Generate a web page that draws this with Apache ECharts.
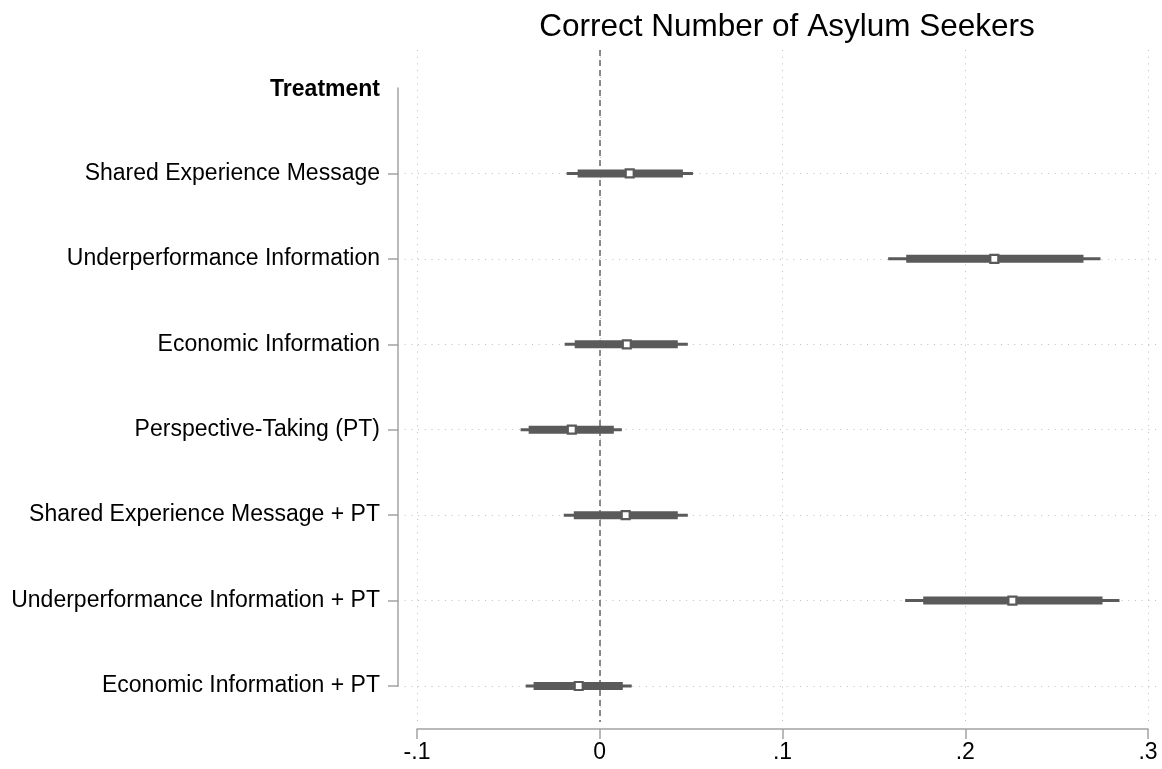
<!DOCTYPE html>
<html>
<head>
<meta charset="utf-8">
<script src="https://cdn.jsdelivr.net/npm/echarts@6/dist/echarts.min.js"></script>
<style>html,body{margin:0;padding:0;background:#fff}#c{width:1162px;height:769px}</style>
</head>
<body>
<div id="c"></div>
<script>
const categories = ['Treatment', 'Shared Experience Message', 'Underperformance Information', 'Economic Information', 'Perspective-Taking (PT)', 'Shared Experience Message + PT', 'Underperformance Information + PT', 'Economic Information + PT'];
const estimates = [0.0164, 0.2159, 0.0148, -0.0153, 0.0142, 0.2258, -0.0115];
const ci95Low  = [-0.0181, 0.1578, -0.0192, -0.0433, -0.0197, 0.1671, -0.0405];
const ci95High = [0.0510, 0.2740, 0.0482, 0.0121, 0.0482, 0.2844, 0.0175];
const ci90Low  = [-0.0121, 0.1677, -0.0137, -0.0389, -0.0142, 0.1770, -0.0362];
const ci90High = [0.0455, 0.2647, 0.0427, 0.0077, 0.0427, 0.2751, 0.0126];
const xTickLabels = ['-.1', '0', '.1', '.2', '.3'];

const FONT = 'Liberation Sans, Arial, Helvetica, sans-serif';
const DARK = '#5a5a5a';
const AXIS = '#a3a3a3';
const GRIDC = '#bdbdbd';

const seriesData = estimates.map((e, i) => [i + 1, ci95Low[i], ci95High[i], ci90Low[i], ci90High[i], e]);

const chart = echarts.init(document.getElementById('c'), null, {renderer: 'canvas'});
chart.setOption({
  animation: false,
  backgroundColor: '#fff',
  title: {
    text: 'Correct Number of Asylum Seekers',
    left: 782, textAlign: 'center', top: 6,
    textStyle: {fontFamily: FONT, fontSize: 31.5, fontWeight: 'normal', color: '#000'}
  },
  grid: [
    {left: 417, right: 14, top: 50, bottom: 47},
    {left: 398, right: 5, top: 88, bottom: 83}
  ],
  xAxis: [
    {
      gridIndex: 0, type: 'value', min: -0.1, max: 0.3, interval: 0.1,
      offset: 7,
      axisLine: {show: true, onZero: false, lineStyle: {color: AXIS, width: 1.5}},
      axisTick: {show: true, length: 10, lineStyle: {color: AXIS, width: 1.5}},
      axisLabel: {
        margin: 12, fontFamily: FONT, fontSize: 23, color: '#000',
        formatter: v => xTickLabels[Math.round((v + 0.1) / 0.1)]
      },
      splitLine: {show: true, showMinLine: true, showMaxLine: true, lineStyle: {color: GRIDC, width: 1, type: [1, 5.7]}}
    },
    {gridIndex: 1, type: 'value', min: 0, max: 1, show: false}
  ],
  yAxis: [
    {gridIndex: 0, type: 'value', inverse: true, min: -0.4448, max: 7.4213, show: false, splitLine: {show: false}},
    {
      gridIndex: 1, type: 'category', data: categories, inverse: true, boundaryGap: false,
      axisLine: {show: true, lineStyle: {color: AXIS, width: 1.5}},
      axisTick: {show: true, length: 10, interval: (i) => i !== 0, lineStyle: {color: AXIS, width: 1.5}},
      axisLabel: {
        margin: 18, interval: 0, fontFamily: FONT, fontSize: 23, color: '#000',
        formatter: (v, i) => i === 0 ? '{b|' + v + '}' : v,
        rich: {b: {fontFamily: FONT, fontSize: 23, fontWeight: 'bold', color: '#000', padding: [4, 0, 0, 0]}}
      },
      splitLine: {show: true, interval: (i) => i !== 0, lineStyle: {color: GRIDC, width: 1, type: [1, 5.7]}}
    }
  ],
  series: [{
    type: 'custom',
    xAxisIndex: 0, yAxisIndex: 0,
    data: seriesData,
    z: 5,
    renderItem: (params, api) => {
      const y = api.value(0);
      const a = api.coord([api.value(1), y]);
      const b = api.coord([api.value(2), y]);
      const c = api.coord([api.value(3), y]);
      const d = api.coord([api.value(4), y]);
      const p = api.coord([api.value(5), y]);
      return {
        type: 'group',
        children: [
          {type: 'line', shape: {x1: a[0], y1: a[1], x2: b[0], y2: b[1]}, style: {stroke: DARK, lineWidth: 3}},
          {type: 'line', shape: {x1: c[0], y1: c[1], x2: d[0], y2: d[1]}, style: {stroke: DARK, lineWidth: 8}},
          {type: 'rect', shape: {x: p[0] - 4, y: p[1] - 4, width: 8, height: 8}, style: {fill: '#fff', stroke: DARK, lineWidth: 2.2}}
        ]
      };
    },
    markLine: {
      silent: true, symbol: 'none', label: {show: false},
      lineStyle: {color: '#666', width: 1.5, type: [6, 4]},
      data: [{xAxis: 0}]
    }
  }]
});
</script>
</body>
</html>
